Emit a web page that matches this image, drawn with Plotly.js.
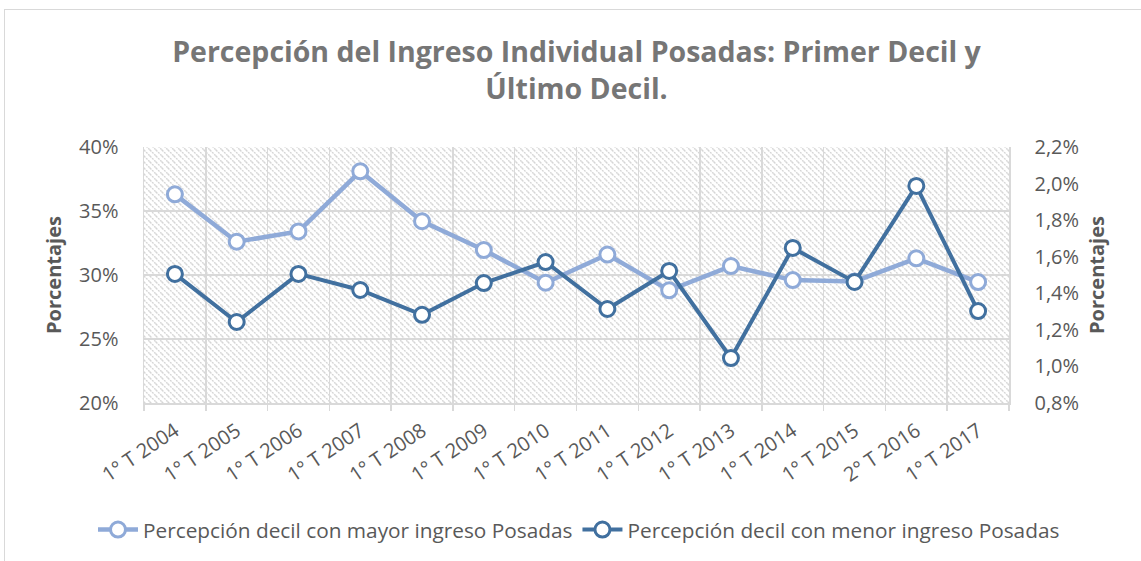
<!DOCTYPE html>
<html>
<head>
<meta charset="utf-8">
<script src="https://cdn.plot.ly/plotly-3.0.1.min.js"></script>
<style>
html,body{margin:0;padding:0;background:#fff;overflow:hidden;}
#frame{position:absolute;left:4px;top:9px;width:1300px;height:700px;border:1px solid #d9d9d9;pointer-events:none;z-index:5;}
#chart{position:absolute;left:0;top:0;width:1141px;height:561px;}
</style>
</head>
<body>
<div id="chart"></div>
<div id="frame"></div>
<script>
// Data
const categories = ["1° T 2004","1° T 2005","1° T 2006","1° T 2007","1° T 2008","1° T 2009","1° T 2010","1° T 2011","1° T 2012","1° T 2013","1° T 2014","1° T 2015","2° T 2016","1° T 2017"];
const mayorIngreso = [36.3, 32.6, 33.4, 38.1, 34.2, 31.95, 29.4, 31.6, 28.8, 30.7, 29.6, 29.5, 31.3, 29.45];
const menorIngreso = [1.506, 1.243, 1.506, 1.418, 1.282, 1.456, 1.571, 1.314, 1.522, 1.046, 1.648, 1.462, 1.987, 1.303];
const seriesNames = ["Percepción decil con mayor ingreso Posadas", "Percepción decil con menor ingreso Posadas"];
const titleText = "Percepción del Ingreso Individual Posadas: Primer Decil y<br>Último Decil.";
const axisTitle = "Porcentajes";

const colMayor = "#8faad8";
const colMenor = "#41709f";
const gridCol = "#d9d9d9";
const txtCol = "#595959";
const fnt = "'Open Sans', 'Noto Sans', sans-serif";

const traces = [
  {
    x: categories, y: mayorIngreso, name: seriesNames[0], type: "scatter", mode: "lines+markers",
    yaxis: "y",
    line: {color: colMayor, width: 4.5},
    marker: {symbol: "circle", size: 15, color: "#ffffff", line: {color: colMayor, width: 3}}
  },
  {
    x: categories, y: menorIngreso, name: seriesNames[1], type: "scatter", mode: "lines+markers",
    yaxis: "y2",
    line: {color: colMenor, width: 4},
    marker: {symbol: "circle", size: 15, color: "#ffffff", line: {color: colMenor, width: 3}}
  }
];

const layout = {
  width: 1141, height: 561,
  paper_bgcolor: "rgba(0,0,0,0)",
  plot_bgcolor: "#ffffff",
  separators: ",.",
  margin: {l: 144, r: 132, t: 147, b: 158, pad: 0, autoexpand: false},
  font: {family: fnt, color: txtCol, size: 20},
  title: {
    text: titleText,
    font: {family: fnt, size: 28.5, color: "#767676", weight: "bold"},
    x: 0.5, xref: "paper", xanchor: "center",
    y: 1 - 62/561, yref: "container", yanchor: "top"
  },
  showlegend: true,
  legend: {
    orientation: "h", x: -51/865, xanchor: "left", xref: "paper",
    y: -127/256, yanchor: "middle", yref: "paper",
    font: {family: fnt, size: 20.8, color: txtCol},
    itemwidth: 40, traceorder: "normal"
  },
  xaxis: {
    type: "category",
    tickson: "boundaries",
    ticks: "outside", ticklen: 6, tickcolor: gridCol, tickwidth: 1.5,
    ticklabelstandoff: 7,
    showgrid: true, gridcolor: gridCol, gridwidth: 1.5,
    showline: true, linecolor: gridCol, linewidth: 1.5,
    tickangle: -34,
    tickfont: {family: fnt, size: 20, color: txtCol},
    range: [-0.5, 13.5]
  },
  yaxis: {
    range: [20, 40], dtick: 5, tick0: 20,
    ticksuffix: "%", tickformat: ".0f",
    showgrid: true, gridcolor: gridCol, gridwidth: 1.5,
    showline: true, linecolor: gridCol, linewidth: 1.5,
    zeroline: false, ticks: "outside", ticklen: 20, tickcolor: "rgba(0,0,0,0)",
    tickfont: {family: fnt, size: 20, color: txtCol},
    title: {text: axisTitle, font: {family: fnt, size: 20, color: txtCol, weight: "bold"}, standoff: 12}
  },
  yaxis2: {
    overlaying: "y", side: "right",
    range: [0.8, 2.2], dtick: 0.2, tick0: 0.8,
    ticksuffix: "%", tickformat: ".1f",
    showgrid: false, zeroline: false,
    showline: true, linecolor: gridCol, linewidth: 1.5,
    ticks: "outside", ticklen: 20, tickcolor: "rgba(0,0,0,0)",
    tickfont: {family: fnt, size: 20, color: txtCol},
    title: {text: axisTitle, font: {family: fnt, size: 20, color: txtCol, weight: "bold"}, standoff: 12}
  }
};

Plotly.newPlot("chart", traces, layout, {displayModeBar: false, staticPlot: true}).then(function(gd){
  const svg = gd.querySelector("svg.main-svg");
  const ns = "http://www.w3.org/2000/svg";
  let defs = svg.querySelector("defs");
  if (!defs) { defs = document.createElementNS(ns, "defs"); svg.insertBefore(defs, svg.firstChild); }
  const pat = document.createElementNS(ns, "pattern");
  pat.setAttribute("id", "hatchBg");
  pat.setAttribute("patternUnits", "userSpaceOnUse");
  pat.setAttribute("width", "6"); pat.setAttribute("height", "6");
  const r = document.createElementNS(ns, "rect");
  r.setAttribute("width", "6"); r.setAttribute("height", "6"); r.setAttribute("fill", "#ffffff");
  pat.appendChild(r);
  const segs = [[0,0,6,6],[-3,3,3,9],[3,-3,9,3]];
  segs.forEach(function(s){
    const l = document.createElementNS(ns, "line");
    l.setAttribute("x1", s[0]); l.setAttribute("y1", s[1]);
    l.setAttribute("x2", s[2]); l.setAttribute("y2", s[3]);
    l.setAttribute("stroke", "#d6d6d6"); l.setAttribute("stroke-width", "1.4");
    l.setAttribute("stroke-dasharray", "2,1");
    pat.appendChild(l);
  });
  defs.appendChild(pat);
  gd.querySelectorAll("rect.bg").forEach(function(b){ b.style.fill = "url(#hatchBg)"; });
});
</script>
</body>
</html>
